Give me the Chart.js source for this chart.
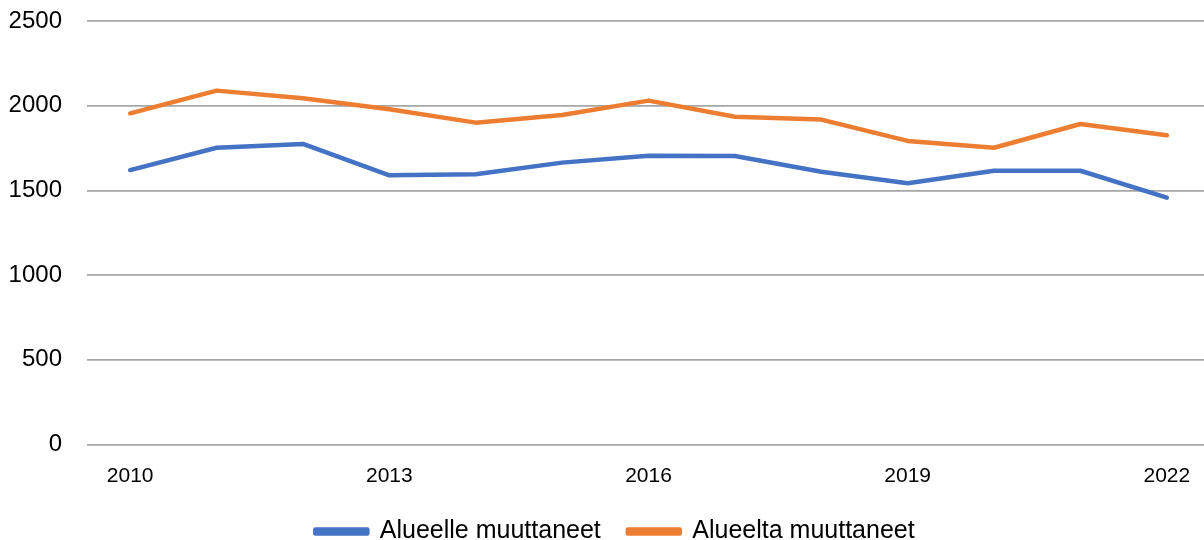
<!DOCTYPE html>
<html>
<head>
<meta charset="utf-8">
<script src="https://cdn.jsdelivr.net/npm/chart.js@4/dist/chart.umd.min.js"></script>
<style>
html,body{margin:0;padding:0;background:#fff;overflow:hidden;}
#wrap{width:1210px;height:554px;}
</style>
</head>
<body>
<div id="wrap"><canvas id="c" width="1210" height="554"></canvas></div>
<script>
const years = ['2010','2011','2012','2013','2014','2015','2016','2017','2018','2019','2020','2021','2022'];
const alueelle = [1620, 1752, 1774, 1589, 1595, 1664, 1705, 1703, 1610, 1542, 1616, 1616, 1457];
const alueelta = [1955, 2089, 2044, 1979, 1900, 1945, 2030, 1935, 1918, 1792, 1752, 1892, 1825];
const yTicks = [0, 500, 1000, 1500, 2000, 2500];

const FONT = "'Liberation Sans', Arial, sans-serif";

const shiftLegend = {
  id: 'shiftLegend',
  afterLayout(chart) {
    const lg = chart.legend;
    if (lg) { lg.left += 10; lg.right += 10; }
  }
};

new Chart(document.getElementById('c'), {
  type: 'line',
  data: {
    labels: years,
    datasets: [
      { label: 'Alueelle muuttaneet', data: alueelle, borderColor: '#4472C4', backgroundColor: '#4472C4', borderWidth: 4.5, pointRadius: 0, tension: 0, borderJoinStyle: 'round', borderCapStyle: 'round' },
      { label: 'Alueelta muuttaneet', data: alueelta, borderColor: '#ED7D31', backgroundColor: '#ED7D31', borderWidth: 4.5, pointRadius: 0, tension: 0, borderJoinStyle: 'round', borderCapStyle: 'round' }
    ]
  },
  plugins: [shiftLegend],
  options: {
    responsive: false,
    animation: false,
    layout: { padding: { top: 21, right: 0, bottom: 0, left: 0 } },
    plugins: {
      legend: {
        position: 'bottom',
        labels: {
          boxWidth: 52, boxHeight: 4,
          padding: 27,
          color: '#000',
          font: { family: FONT, size: 25 }
        }
      },
      tooltip: { enabled: false }
    },
    scales: {
      x: {
        offset: true,
        afterFit: s => { s.height = 47.5; },
        grid: { display: false },
        border: { display: false },
        ticks: {
          autoSkip: false, maxRotation: 0, padding: 11,
          color: '#000', font: { family: FONT, size: 21 },
          callback: function(v, i) { return i % 3 === 0 ? years[i] : ''; }
        }
      },
      y: {
        min: 0, max: 2500,
        afterFit: s => { s.width = 87; s.paddingTop = 0; s.paddingBottom = 0; },
        afterBuildTicks: s => { s.ticks = yTicks.map(v => ({ value: v })); },
        grid: { color: '#A6A6A6', lineWidth: 1.8, drawTicks: false },
        border: { display: false },
        ticks: { padding: 25, color: '#000', font: { family: FONT, size: 24 }, callback: v => String(v) }
      }
    }
  }
});
</script>
</body>
</html>
